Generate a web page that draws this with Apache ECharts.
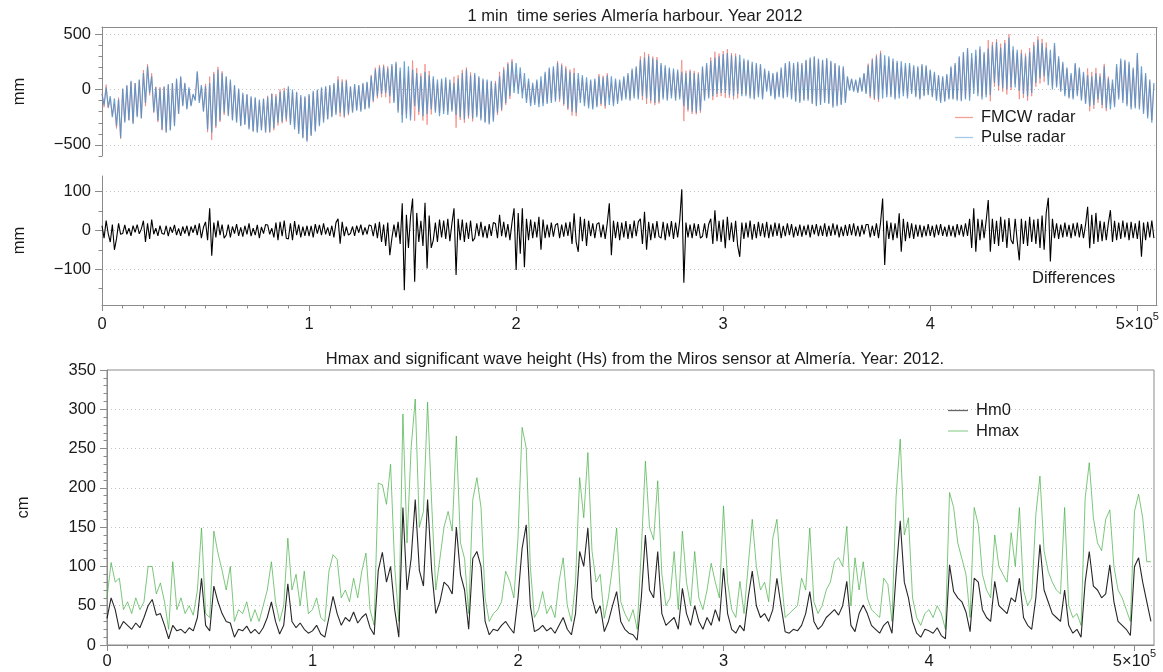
<!DOCTYPE html>
<html><head><meta charset="utf-8">
<script src="https://cdn.jsdelivr.net/npm/echarts@6/dist/echarts.min.js"></script>
<style>html,body{margin:0;padding:0;background:#fff}#c{width:1163px;height:672px}</style>
</head><body><div id="c"></div>
<script>
// ---- data ----
const STEP_RADAR = 1000;   // minutes between radar samples
const STEP_WAVE = 2000;    // minutes between wave-height samples
const X_MAX = 509500;

// Pulse radar sea level (mm)
const pulse = [
-40,-140,20,-160,-60,-250,-80,-330,-90,-435,
10,-300,40,-280,80,-310,60,-250,90,-260,
150,-120,210,-30,120,-200,20,-280,10,-360,
30,-390,50,-370,60,-330,100,-220,120,-150,
60,-180,20,-150,-40,-100,165,-120,40,-200,
30,-360,60,-390,140,-330,180,-280,150,-210,
120,-240,90,-280,40,-300,10,-330,-30,-320,
-40,-360,-60,-380,-70,-390,-90,-370,-80,-390,
-70,-380,-40,-350,-60,-300,-20,-290,-10,-270,
30,-320,0,-360,-20,-400,-50,-440,-60,-470,
-40,-420,-10,-380,0,-330,20,-300,30,-270,
40,-250,60,-230,90,-210,70,-240,80,-220,
30,-210,50,-190,40,-200,60,-180,70,-170,
120,-100,180,-60,200,-40,210,-30,190,-60,
230,-120,250,-210,200,-300,255,-260,210,-280,
180,-150,150,-200,120,-240,160,-220,130,-180,
120,-210,90,-240,100,-220,110,-230,90,-200,
60,-230,100,-250,150,-270,180,-240,130,-260,
150,-250,120,-280,100,-300,90,-315,80,-290,
60,-210,120,-180,180,-120,230,-60,255,-30,
240,-40,200,-80,150,-120,100,-150,60,-140,
90,-160,120,-150,160,-130,200,-120,210,-110,
240,-90,220,-130,190,-170,160,-200,150,-210,
150,-120,130,-150,110,-170,90,-180,100,-160,
120,-130,110,-150,130,-140,120,-150,100,-130,
90,-100,120,-90,150,-100,190,-80,210,-90,
270,-60,290,-80,300,-100,280,-120,270,-110,
240,-90,220,-100,200,-80,190,-100,180,-90,
160,-150,150,-180,165,-200,150,-210,140,-190,
210,-100,240,-80,260,-60,290,-40,300,-30,
320,-30,330,-50,310,-60,300,-40,315,-60,
280,-60,270,-80,250,-90,240,-70,230,-90,
190,-20,170,-60,150,-90,160,-70,200,-80,
240,-70,255,-90,240,-110,250,-120,240,-100,
270,-100,290,-130,300,-150,280,-140,270,-120,
285,-130,260,-165,240,-150,220,-140,210,-120,
120,-10,100,-20,90,-30,110,-20,150,-40,
220,-60,270,-80,300,-90,330,-80,310,-70,
300,-70,280,-90,260,-80,255,-60,240,-80,
240,-40,220,-70,210,-90,230,-60,220,-50,
180,-70,160,-100,130,-120,120,-110,140,-90,
210,-90,240,-100,300,-105,340,-90,375,-100,
330,-40,360,-60,390,-90,340,-70,370,-50,
400,60,430,30,380,10,420,0,470,20,
390,20,360,-10,330,-40,300,-60,340,-30,
400,60,450,100,420,120,380,40,360,0,
420,20,300,-20,250,-60,200,-80,150,-90,
240,-60,200,-100,160,-130,130,-150,120,-140,
150,-90,120,-140,210,-170,100,-180,90,-160,
230,-90,280,-120,270,-150,250,-180,200,-170,
330,-180,210,-220,150,-260,90,-300,60
];

// Differences FMCW - Pulse (mm)
const diff = [
12,-20,25,-8,-30,15,-50,-22,18,-10,
-8,14,-10,6,-14,12,-5,15,-9,4,
25,-30,18,-22,28,-10,6,-14,12,-8,
-10,12,-15,9,-6,14,-12,5,-14,10,
-8,12,-15,10,-6,14,-12,18,-20,8,
22,-25,57,-65,20,-18,25,-12,15,-20,
-12,15,-18,10,-8,16,-14,8,-16,12,
-10,18,-15,6,-12,14,-20,9,-8,15,
14,-10,6,-18,20,-25,22,-15,25,-20,
-22,18,-25,24,-12,15,-18,10,-14,12,
-15,12,-18,16,-8,14,-12,18,-10,8,
-14,12,-18,20,30,-34,22,-15,10,-12,
-8,10,-14,12,-6,15,-12,8,-10,14,
12,-15,18,-20,22,-30,15,-40,20,-64,
-20,15,-18,22,-35,70,-154,40,-45,35,
82,-132,45,-30,25,-40,71,-98,38,-45,
-25,20,-30,28,-18,25,-22,30,-28,18,
57,-115,30,-25,28,-30,20,-22,25,-28,
-20,18,-15,22,-18,12,-20,16,-14,20,
18,-20,40,-15,22,-18,16,-25,20,57,
-102,45,-60,57,-95,30,-25,28,-20,22,
-18,35,-50,28,-20,15,-18,20,-16,14,
18,-20,15,-16,20,-14,22,-35,44,-30,
-55,35,-28,30,-40,25,-15,18,-20,16,
20,-18,15,-22,18,70,-64,25,-20,22,
-25,20,-18,24,-22,16,-20,25,-15,22,
30,-35,48,-50,22,-25,18,-20,24,-16,
-20,22,-25,18,-16,24,-22,20,-18,25,
106,-135,20,-18,15,-20,18,-14,16,-20,
-15,18,-20,16,30,-35,52,-28,25,-30,
28,-46,35,-25,20,-30,25,-40,-68,20,
-22,20,-18,25,-24,16,-20,22,-15,18,
-18,22,-20,15,-16,20,-14,18,-20,12,
-15,18,-12,16,-18,10,-14,15,-16,12,
-12,15,-18,14,-10,16,-15,12,-14,18,
-16,12,-14,18,-12,15,-18,10,-15,14,
-14,16,-12,18,-15,12,-16,14,-10,15,
15,-18,12,-14,18,-20,20,82,-89,25,
-22,20,-25,18,-20,44,-55,30,-28,22,
-20,18,-22,15,-16,14,-18,12,-15,16,
-14,12,-18,15,-12,16,-14,10,-16,14,
-15,12,-18,16,-12,14,-16,18,-14,30,
-45,57,-55,30,-25,28,-20,25,78,-55,
30,-35,25,-40,35,-30,28,-45,32,-25,
-35,30,-28,-77,30,-35,25,-40,35,-30,
28,-35,30,-45,38,-50,45,84,-80,30,
-20,18,-22,15,-18,20,-16,14,-20,18,
-15,20,-18,16,-20,15,61,-46,40,-35,
45,-30,25,-28,22,-25,18,52,-30,25,
-25,20,-22,25,-18,20,-25,22,-20,18,
-22,25,-68,20,-25,22,-18,25,-20
];

// Significant wave height Hm0 (cm)
const hm0 = [
34,60,45,20,30,25,20,28,22,35,
50,58,38,40,25,8,25,18,20,15,
22,18,35,85,25,18,75,55,40,30,
28,10,20,18,24,15,20,14,22,35,
55,30,14,25,78,30,22,28,20,15,
18,25,14,10,35,62,40,25,35,30,
42,28,35,40,22,13,95,118,80,100,
45,10,175,70,110,185,95,75,185,95,
40,55,80,75,65,
150,90,70,20,110,
119,100,30,13,20,18,25,30,22,15,
60,123,153,50,17,20,25,18,22,15,
25,35,20,13,40,119,100,149,60,40,
50,17,30,50,68,30,20,15,13,6,
60,140,70,60,119,40,25,30,35,20,
72,40,25,50,30,20,35,25,45,30,
98,40,20,15,25,18,60,94,50,35,
40,30,45,85,50,17,15,20,18,25,
40,68,30,20,25,35,40,45,38,50,
81,25,17,40,51,40,25,20,15,25,
30,15,90,158,80,60,30,15,10,20,
18,15,22,12,8,102,68,60,55,42,
17,85,80,45,35,30,81,50,45,40,
60,55,85,35,25,20,60,128,70,55,
40,35,30,70,25,15,20,10,80,119,
75,70,60,65,102,55,30,25,20,12,
100,111,80,55,30
];

// Maximum wave height Hmax (cm)
const hmax = [
60,105,80,85,45,55,40,60,45,55,
100,100,65,79,55,20,106,45,60,40,
50,38,70,149,40,35,145,117,95,70,
100,30,45,40,55,30,45,30,50,70,
106,55,30,50,136,70,90,50,94,40,
45,60,35,30,94,115,109,60,70,55,
85,60,94,117,45,25,206,204,179,230,
100,30,294,130,251,313,150,170,309,180,
70,110,150,170,145,
266,130,110,40,185,
213,175,60,30,40,45,55,94,81,60,
136,277,251,100,35,45,68,40,50,35,
81,111,50,30,80,213,162,245,120,80,
90,34,60,100,149,55,40,30,45,20,
120,234,150,134,209,90,50,60,119,45,
145,80,50,119,60,45,70,104,80,60,
177,80,45,35,81,40,100,160,100,70,
80,55,136,160,90,35,40,45,50,85,
70,149,55,40,50,70,80,106,111,100,
151,50,111,70,106,60,45,40,35,85,
77,30,189,262,140,162,60,35,25,40,
45,35,50,40,20,194,175,130,110,90,
35,175,153,90,70,60,140,100,90,80,
143,100,175,70,50,60,166,215,120,94,
80,70,65,175,50,35,40,25,187,232,
162,130,120,160,172,100,70,60,45,30,
170,192,162,106,106
];

// tick positions / labels
const xMajor = [0, 100000, 200000, 300000, 400000, 500000];
const xMinor = [];
for (let v = 0; v <= 500000; v += 10000) xMinor.push(v);
const y1Major = [-500, 0, 500];
const y1Minor = [-600, -500, -400, -300, -200, -100, 0, 100, 200, 300, 400, 500];
const y2Major = [-100, 0, 100];
const y2Minor = [-150, -100, -50, 0, 50, 100];
const y3Major = [0, 50, 100, 150, 200, 250, 300, 350];
const y3Minor = [];
for (let v = 0; v <= 350; v += 10) y3Minor.push(v);

// Differences = FMCW - Pulse  ->  FMCW = Pulse + Differences
const fmcw = pulse.map((v, i) => v + diff[i]);

// ---- chart ----
const FONT = '"Liberation Sans", Arial, Helvetica, sans-serif';
const AX = '#8a8a8a';
const TXT = '#1a1a1a';
const FS = 16.5;
const chart = echarts.init(document.getElementById('c'), null, {renderer: 'canvas'});

const minus = v => String(v).replace('-', '\u2212');
const xFmt = v => v === 500000 ? '{b|5\u00d710}{s|5}' : '{b|' + (v / 100000) + '}';

function xMinorAxis(g) {
  return {gridIndex: g, type: 'value', min: 0, max: X_MAX, position: 'bottom',
    axisLine: {show: true, onZero: false, lineStyle: {color: AX, width: 1}},
    axisTick: {show: true, customValues: xMinor, length: 3.5, lineStyle: {color: AX}},
    axisLabel: {show: false}, splitLine: {show: false}};
}
function xMajorAxis(g, margin) {
  return {gridIndex: g, type: 'value', min: 0, max: X_MAX, position: 'bottom',
    axisLine: {show: false, onZero: false},
    axisTick: {show: true, customValues: xMajor, length: 6, lineStyle: {color: AX}},
    axisLabel: {show: true, customValues: xMajor, formatter: xFmt, margin: margin,
      color: TXT, fontSize: FS, fontFamily: FONT,
      rich: {
        b: {fontSize: FS, fontFamily: FONT, color: TXT, lineHeight: 26},
        s: {fontSize: 11, fontFamily: FONT, color: TXT, lineHeight: 12, verticalAlign: 'top'}
      }},
    splitLine: {show: false}};
}
function yMinorAxis(g, min, max, ticks, name, gap) {
  return {gridIndex: g, type: 'value', min: min, max: max, position: 'left',
    axisLine: {show: true, onZero: false, lineStyle: {color: AX, width: 1}},
    axisTick: {show: true, customValues: ticks, length: 3.5, lineStyle: {color: AX}},
    axisLabel: {show: false}, splitLine: {show: false},
    name: name, nameLocation: 'middle', nameRotate: 90, nameGap: gap,
    nameTextStyle: {fontSize: FS, fontFamily: FONT, color: TXT}};
}
function yMajorAxis(g, min, max, ticks) {
  return {gridIndex: g, type: 'value', min: min, max: max, position: 'left',
    axisLine: {show: false, onZero: false},
    axisTick: {show: true, customValues: ticks, length: 7, lineStyle: {color: AX}},
    axisLabel: {show: true, customValues: ticks, formatter: minus, margin: 11,
      color: TXT, fontSize: FS, fontFamily: FONT},
    splitLine: {show: true, lineStyle: {color: '#c4c4c4', width: 1, type: [1, 3]}}};
}
const legText = {fontSize: FS, fontFamily: FONT, color: TXT, padding: [0, 0, 0, 3]};

const option = {
  animation: false,
  backgroundColor: '#fff',
  title: [
    {text: '1 min  time series Almer\u00eda harbour. Year 2012', left: 630, top: 3, textAlign: 'center',
      textStyle: {fontSize: FS, fontWeight: 'normal', fontFamily: FONT, color: TXT}},
    {text: 'Hmax and significant wave height (Hs) from the Miros sensor at Almer\u00eda. Year: 2012.', left: 630, top: 346, textAlign: 'center',
      textStyle: {fontSize: FS, fontWeight: 'normal', fontFamily: FONT, color: TXT}},
    {text: 'Differences', left: 1027, top: 265,
      textStyle: {fontSize: FS, fontWeight: 'normal', fontFamily: FONT, color: TXT}}
  ],
  legend: [
    {data: [{name: 'FMCW radar', itemStyle: {color: '#f3a097'}}, {name: 'Pulse radar', itemStyle: {color: '#a3c9e6'}}],
      orient: 'vertical', left: 955, top: 109, padding: 0, icon: 'rect',
      itemWidth: 18, itemHeight: 1.3, itemGap: 3, selectedMode: false, textStyle: legText},
    {data: [{name: 'Hm0', itemStyle: {color: '#666666'}}, {name: 'Hmax', itemStyle: {color: '#9bd49b'}}],
      orient: 'vertical', left: 948, top: 402, padding: 0, icon: 'rect',
      itemWidth: 20, itemHeight: 1.3, itemGap: 3.5, selectedMode: false, textStyle: legText}
  ],
  grid: [
    {left: 102, top: 27, width: 1055, height: 129},
    {left: 102, top: 176, width: 1055, height: 129},
    {left: 107, top: 370, width: 1047, height: 275, show: true, borderColor: AX, borderWidth: 1, backgroundColor: 'transparent'}
  ],
  xAxis: [
    {gridIndex: 0, type: 'value', min: 0, max: X_MAX, position: 'top',
      axisLine: {show: true, onZero: false, lineStyle: {color: AX, width: 1}}, axisTick: {show: false},
      axisLabel: {show: false}, splitLine: {show: false}},
    xMinorAxis(1), xMajorAxis(1, 6), xMinorAxis(2), xMajorAxis(2, 3)
  ],
  yAxis: [
    yMinorAxis(0, -600, 565, y1Minor, 'mm', 74), yMajorAxis(0, -600, 565, y1Major),
    yMinorAxis(1, -192, 140, y2Minor, 'mm', 74), yMajorAxis(1, -192, 140, y2Major),
    yMinorAxis(2, 0, 350, y3Minor, 'cm', 75), yMajorAxis(2, 0, 350, y3Major)
  ],
  graphic: [
    {type: 'line', silent: true, shape: {x1: 1156.5, y1: 27, x2: 1156.5, y2: 305},
      style: {stroke: AX, lineWidth: 1}}
  ],
  series: [
    {type: 'line', name: 'FMCW radar', xAxisIndex: 0, yAxisIndex: 0, symbol: 'none', showSymbol: false,
      data: fmcw.map((v, i) => [i * STEP_RADAR, v]), silent: true, z: 2,
      lineStyle: {width: 1, color: 'rgba(240,110,100,0.6)'}, itemStyle: {color: 'rgba(240,110,100,0.6)'}},
    {type: 'line', name: 'Pulse radar', xAxisIndex: 0, yAxisIndex: 0, symbol: 'none', showSymbol: false,
      data: pulse.map((v, i) => [i * STEP_RADAR, v]), silent: true, z: 3,
      lineStyle: {width: 1.2, color: 'rgba(70,140,200,0.8)'}, itemStyle: {color: 'rgba(70,140,200,0.8)'}},
    {type: 'line', name: 'Differences', xAxisIndex: 1, yAxisIndex: 2, symbol: 'none', showSymbol: false,
      data: diff.map((v, i) => [i * STEP_RADAR, v]), silent: true,
      lineStyle: {width: 1.1, color: '#000'}, itemStyle: {color: '#000'}},
    {type: 'line', name: 'Hmax', xAxisIndex: 3, yAxisIndex: 4, symbol: 'none', showSymbol: false,
      data: hmax.map((v, i) => [i * STEP_WAVE, v]), silent: true, z: 2,
      lineStyle: {width: 1, color: 'rgba(70,175,70,0.7)'}, itemStyle: {color: 'rgba(70,175,70,0.7)'}},
    {type: 'line', name: 'Hm0', xAxisIndex: 3, yAxisIndex: 4, symbol: 'none', showSymbol: false,
      data: hm0.map((v, i) => [i * STEP_WAVE, v]), silent: true, z: 3,
      lineStyle: {width: 1.1, color: 'rgba(0,0,0,0.85)'}, itemStyle: {color: 'rgba(0,0,0,0.85)'}}
  ]
};
chart.setOption(option);
</script>
</body></html>
